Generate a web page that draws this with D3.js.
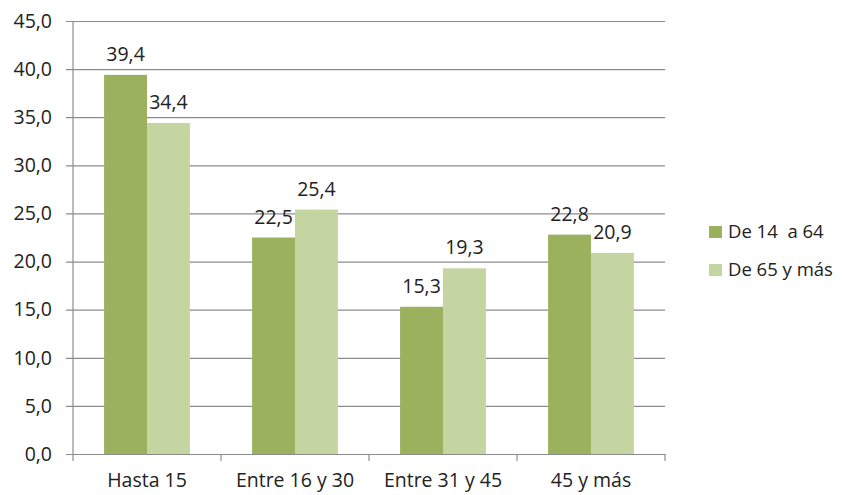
<!DOCTYPE html>
<html>
<head>
<meta charset="utf-8">
<script src="https://cdn.jsdelivr.net/npm/d3@7"></script>
<style>
  body { margin: 0; background: #fff; overflow: hidden; }
  text { font-family: "Open Sans", "Liberation Sans", sans-serif; fill: #222; }
</style>
</head>
<body>
<div id="chart"></div>
<script>
const categories = ['Hasta 15', 'Entre 16 y 30', 'Entre 31 y 45', '45 y más'];
const seriesNames = ['De 14  a 64', 'De 65 y más'];
const young = [39.4, 22.5, 15.3, 22.8];
const old = [34.4, 25.4, 19.3, 20.9];
const yTicks = [0, 5, 10, 15, 20, 25, 30, 35, 40, 45];
const colors = ['#9bb15e', '#c5d5a2'];

const width = 845;
const height = 495;
const margin = {left: 73, right: 180, top: 21, bottom: 41};
const innerWidth = width - margin.left - margin.right;
const innerHeight = height - margin.top - margin.bottom;

const fmt = v => d3.format('.1f')(v).replace('.', ',');

const svg = d3.select('#chart').append('svg')
  .attr('width', width)
  .attr('height', height)
  .style('display', 'block');
const g = svg.append('g')
  .attr('transform', `translate(${margin.left},${margin.top})`);

const xScale = d3.scaleBand()
  .domain(categories)
  .range([0, innerWidth])
  .paddingInner(0.42)
  .paddingOuter(0.21);
const xSub = d3.scaleBand()
  .domain(seriesNames)
  .range([0, xScale.bandwidth()]);
const yScale = d3.scaleLinear()
  .domain([0, 45])
  .range([innerHeight, 0]);

// gridlines + y labels
const yAxis = d3.axisLeft(yScale)
  .tickValues(yTicks)
  .tickFormat(fmt)
  .tickSize(-innerWidth - 7)
  .tickPadding(14);
const yAxisG = g.append('g')
  .attr('transform', 'translate(-7,0)')
  .call(yAxis);
yAxisG.select('.domain').remove();
yAxisG.selectAll('.tick line').attr('stroke', '#8c8c8c').attr('stroke-width', 1.2);
yAxisG.selectAll('.tick text').style('font-size', '19.5px').attr('fill', '#222');

// bars + labels, flat list
const bars = [];
categories.forEach((c, i) => {
  bars.push({cat: c, name: seriesNames[0], v: young[i], j: 0});
  bars.push({cat: c, name: seriesNames[1], v: old[i], j: 1});
});
const barX = d => xScale(d.cat) + xSub(d.name);

g.selectAll('rect.bar').data(bars)
  .enter().append('rect')
  .attr('class', 'bar')
  .attr('x', barX)
  .attr('y', d => yScale(d.v))
  .attr('width', xSub.bandwidth())
  .attr('height', d => innerHeight - yScale(d.v))
  .attr('fill', d => colors[d.j]);
g.selectAll('text.lbl').data(bars)
  .enter().append('text')
  .attr('class', 'lbl')
  .attr('x', d => barX(d) + xSub.bandwidth() / 2)
  .attr('y', d => yScale(d.v) - 14)
  .attr('text-anchor', 'middle')
  .style('font-size', '19.5px')
  .text(d => fmt(d.v));

// axes lines
g.append('line').attr('x1', 0).attr('x2', 0).attr('y1', 0).attr('y2', innerHeight)
  .attr('stroke', '#8c8c8c').attr('stroke-width', 1.2);
const xAxis = d3.axisBottom(xScale).tickSize(0).tickPadding(0);
const xAxisG = g.append('g')
  .attr('transform', `translate(0,${innerHeight})`)
  .call(xAxis);
xAxisG.select('.domain').attr('stroke', '#8c8c8c').attr('stroke-width', 1.2);
xAxisG.selectAll('.tick text')
  .attr('dy', null)
  .attr('y', 33)
  .style('font-size', '19.5px')
  .attr('fill', '#222');
const step = innerWidth / categories.length;
xAxisG.selectAll('.sep').data(d3.range(categories.length + 1))
  .enter().append('line')
  .attr('x1', d => d * step).attr('x2', d => d * step)
  .attr('y1', 0).attr('y2', 7)
  .attr('stroke', '#8c8c8c').attr('stroke-width', 1.2);

// legend
const legend = svg.append('g').attr('transform', 'translate(709,224)');
seriesNames.forEach((n, i) => {
  const row = legend.append('g').attr('transform', `translate(0,${i * 38})`);
  row.append('rect').attr('y', 2).attr('width', 13).attr('height', 12).attr('fill', colors[i]);
  row.append('text').attr('x', 19).attr('y', 14)
    .style('font-size', '18.5px').style('white-space', 'pre').text(n);
});
</script>
</body>
</html>
